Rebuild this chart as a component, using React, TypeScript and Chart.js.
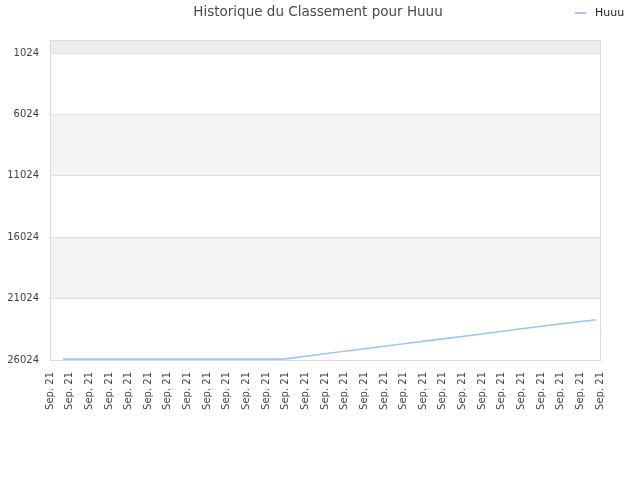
import { useEffect, useRef } from "react"
import { Chart, registerables } from "chart.js"

Chart.register(...registerables)

// positions on the day axis (0..28) and rank reached on each
const days = [0.66, 2, 4, 6, 8, 10, 11.9, 14, 16, 18, 20, 22, 24, 26, 27.8]
const ranks = [25950, 25950, 25950, 25950, 25950, 25950, 25950, 25520, 25110, 24700, 24300, 23900, 23480, 23080, 22740]
const dayLabels = Array.from({ length: 29 }, () => "Sep. 21")
const rankTicks = [1024, 6024, 11024, 16024, 21024, 26024]
const seriesName = "Huuu"
const chartTitle = "Historique du Classement pour Huuu"

const bandPlugin = {
  id: "bands",
  beforeDraw(chart: any) {
    const { ctx, chartArea, scales } = chart
    const y = scales.y
    ctx.save()
    // top strip above the first tick
    ctx.fillStyle = "#ededed"
    ctx.fillRect(chartArea.left, chartArea.top, chartArea.width, y.getPixelForValue(rankTicks[0]) - chartArea.top)
    ctx.fillStyle = "#f3f3f3"
    for (let i = 1; i < rankTicks.length - 1; i += 2) {
      const a = y.getPixelForValue(rankTicks[i])
      const b = y.getPixelForValue(rankTicks[i + 1])
      ctx.fillRect(chartArea.left, a, chartArea.width, b - a)
    }
    ctx.restore()
  },
  afterDraw(chart: any) {
    const { ctx, chartArea } = chart
    ctx.save()
    ctx.strokeStyle = "#dcdcdc"
    ctx.lineWidth = 1
    ctx.strokeRect(chartArea.left + 0.5, chartArea.top + 0.5, chartArea.width, chartArea.height)
    // title and legend share the top row
    ctx.font = "13.5px 'DejaVu Sans'"
    ctx.fillStyle = "#4a4a4a"
    ctx.textAlign = "center"
    ctx.textBaseline = "middle"
    ctx.fillText(chartTitle, (chartArea.left + chartArea.right) / 2 - 7, 12.5)
    ctx.strokeStyle = "#9cc8f4"
    ctx.lineWidth = 2
    ctx.beginPath()
    ctx.moveTo(575, 13)
    ctx.lineTo(586, 13)
    ctx.stroke()
    ctx.font = "11px 'DejaVu Sans'"
    ctx.fillStyle = "#222"
    ctx.textAlign = "left"
    ctx.fillText(seriesName, 595, 13)
    ctx.restore()
  },
}

export default function App() {
  const chartRef = useRef<HTMLCanvasElement>(null)
  const chartInstance = useRef<Chart | null>(null)

  useEffect(() => {
    if (!chartRef.current) return
    const ctx = chartRef.current.getContext("2d")
    if (!ctx) return
    if (chartInstance.current) chartInstance.current.destroy()

    chartInstance.current = new Chart(ctx, {
      type: "line",
      data: {
        datasets: [
          {
            label: seriesName,
            data: days.map((d, i) => ({ x: d, y: ranks[i] })),
            borderColor: "#9cc8f4",
            backgroundColor: "#9cc8f4",
            borderWidth: 1.6,
            pointRadius: 0,
            tension: 0,
          },
        ],
      },
      options: {
        animation: false,
        responsive: true,
        maintainAspectRatio: false,
        layout: { padding: { top: 40, right: 40, left: 0, bottom: 0 } },
        scales: {
          x: {
            type: "linear",
            min: 0,
            max: dayLabels.length - 1,
            afterBuildTicks: (scale: any) => {
              scale.ticks = dayLabels.map((_, i) => ({ value: i }))
            },
            afterFit: (scale: any) => {
              scale.height = 120
            },
            grid: { display: false, drawTicks: false },
            border: { display: false },
            ticks: {
              autoSkip: false,
              maxRotation: 90,
              minRotation: 90,
              padding: 12,
              color: "#444",
              font: { family: "'DejaVu Sans'", size: 10 },
              callback: (v: any) => dayLabels[v] ?? "",
            },
          },
          y: {
            reverse: true,
            min: -42,
            max: 26024,
            afterBuildTicks: (scale: any) => {
              scale.ticks = rankTicks.map((v) => ({ value: v }))
            },
            afterFit: (scale: any) => {
              scale.width = 50
            },
            grid: { color: "#e0e0e0", drawTicks: false },
            border: { display: false },
            ticks: {
              padding: 11,
              color: "#444",
              font: { family: "'DejaVu Sans'", size: 10 },
              callback: (v: any) => String(v),
            },
          },
        },
        plugins: {
          legend: { display: false },
          title: { display: false },
          tooltip: { enabled: false },
        },
      },
      plugins: [bandPlugin],
    })

    return () => {
      if (chartInstance.current) {
        chartInstance.current.destroy()
        chartInstance.current = null
      }
    }
  }, [])

  return (
    <div style={{ position: "fixed", left: 0, top: 0, width: "640px", height: "480px", background: "#fff" }}>
      <canvas ref={chartRef}></canvas>
    </div>
  )
}
